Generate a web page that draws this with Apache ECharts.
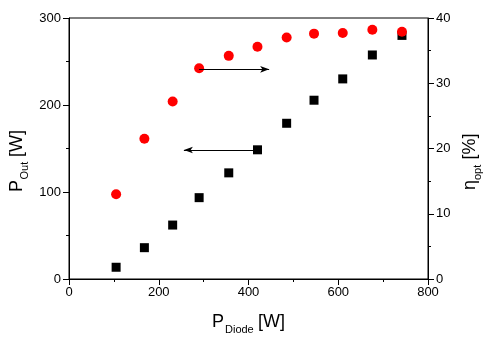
<!DOCTYPE html>
<html>
<head>
<meta charset="utf-8">
<script src="https://cdn.jsdelivr.net/npm/echarts@6/dist/echarts.min.js"></script>
<style>
html,body{margin:0;padding:0;background:#fff;}
#c{width:489px;height:342px;}
</style>
</head>
<body>
<div id="c"></div>
<script>
// ---- data ----
var pDiode = [105, 168, 231, 290, 356, 420, 485, 546, 610, 676, 742];
var pOut   = [13.5, 36, 62, 93.5, 122, 148.5, 179, 205.5, 230, 257.5, 280];
var etaOpt = [13.0, 21.5, 27.2, 32.3, 34.2, 35.6, 37.0, 37.6, 37.7, 38.2, 37.9];
var xTicks = [0, 200, 400, 600, 800];
var yLeftTicks = [0, 100, 200, 300];
var yRightTicks = [0, 10, 20, 30, 40];
// arrows (data coordinates on the left/bottom axes)
var arrowRight = [[290, 241], [446, 241]];
var arrowLeft  = [[420, 148.3], [256, 148.3]];

var FONT = '"Liberation Sans", Arial, sans-serif';
var chart = echarts.init(document.getElementById('c'), null, {renderer: 'canvas'});

function title(x, y, rot, main, sub, tail, subX, tailX) {
  return {
    type: 'group', x: x, y: y, rotation: rot, silent: true,
    children: [
      {type: 'text', x: 0, y: -6.3, style: {text: main, font: '18px ' + FONT, fill: '#000', verticalAlign: 'middle', align: 'left'}},
      {type: 'text', x: subX, y: 2.1, style: {text: sub, font: '11px ' + FONT, fill: '#000', verticalAlign: 'middle', align: 'left'}},
      {type: 'text', x: tailX, y: -6.3, style: {text: tail, font: '18px ' + FONT, fill: '#000', verticalAlign: 'middle', align: 'left'}}
    ]
  };
}

var axisCommon = {
  axisLine: {show: true, lineStyle: {color: '#000', width: 1}},
  axisTick: {show: true, inside: false, length: 6, lineStyle: {color: '#000', width: 1}},
  minorTick: {show: true, splitNumber: 2, length: 3, lineStyle: {color: '#000', width: 1}},
  splitLine: {show: false},
  axisLabel: {color: '#000', fontSize: 13, fontFamily: FONT, margin: 8}
};

var option = {
  animation: false,
  backgroundColor: '#fff',
  grid: {left: 69, right: 61, top: 18, bottom: 63, show: true, borderColor: '#000', borderWidth: 1, backgroundColor: 'transparent'},
  xAxis: Object.assign({}, axisCommon, {
    type: 'value', min: xTicks[0], max: xTicks[xTicks.length - 1], interval: xTicks[1] - xTicks[0],
    axisLabel: Object.assign({}, axisCommon.axisLabel, {margin: 7})
  }),
  yAxis: [
    Object.assign({}, axisCommon, {
      type: 'value', position: 'left', min: yLeftTicks[0], max: yLeftTicks[yLeftTicks.length - 1],
      interval: yLeftTicks[1] - yLeftTicks[0]
    }),
    Object.assign({}, axisCommon, {
      type: 'value', position: 'right', min: yRightTicks[0], max: yRightTicks[yRightTicks.length - 1],
      interval: yRightTicks[1] - yRightTicks[0]
    })
  ],
  series: [
    {
      type: 'scatter', name: 'P_Out', yAxisIndex: 0, symbol: 'rect', symbolSize: 9,
      itemStyle: {color: '#000', opacity: 1},
      emphasis: {disabled: true},
      data: pDiode.map(function (x, i) { return [x, pOut[i]]; }),
      z: 2,
      markLine: {
        silent: true, symbol: ['none', 'arrow'], symbolSize: [5, 9], label: {show: false},
        lineStyle: {color: '#000', width: 1, type: 'solid', opacity: 1},
        emphasis: {disabled: true},
        data: [
          [{coord: arrowRight[0]}, {coord: arrowRight[1]}],
          [{coord: arrowLeft[0]}, {coord: arrowLeft[1]}]
        ]
      }
    },
    {
      type: 'scatter', name: 'eta_opt', yAxisIndex: 1, symbol: 'circle', symbolSize: 10,
      itemStyle: {color: '#ff0000', opacity: 1},
      emphasis: {disabled: true},
      data: pDiode.map(function (x, i) { return [x, etaOpt[i]]; }),
      z: 3
    }
  ],
  graphic: [
    title(212, 328, 0, 'P', 'Diode', '[W]', 13, 46),
    title(23, 192, Math.PI / 2, 'P', 'Out', '[W]', 12.5, 35),
    title(476, 190, Math.PI / 2, 'η', 'opt', '[%]', 10, 30.5)
  ]
};
chart.setOption(option);
</script>
</body>
</html>
